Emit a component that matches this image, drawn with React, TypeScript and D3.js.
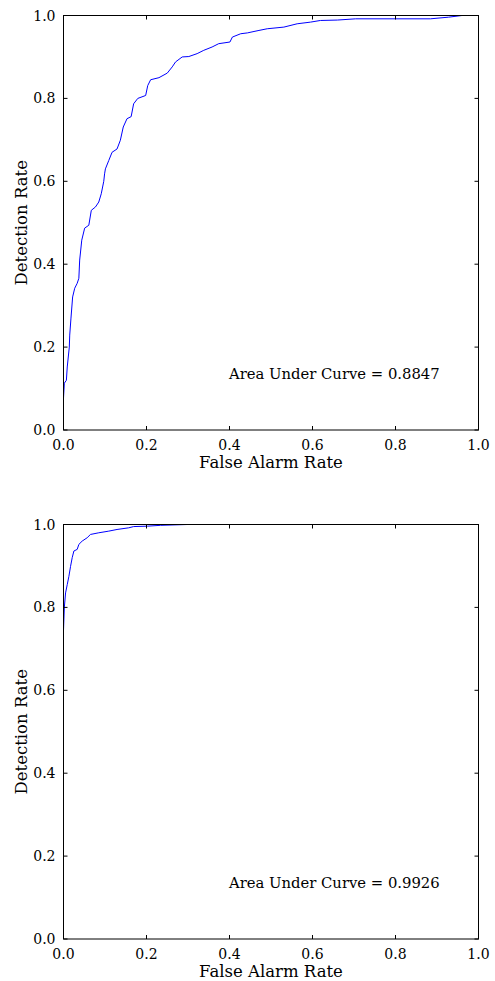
import * as d3 from 'd3';

// ROC points, [false alarm rate, detection rate]
const rocTop: [number, number][] = [
  [0, 0], [0, 0.077], [0.002, 0.113], [0.007, 0.12], [0.009, 0.152], [0.014, 0.2],
  [0.015, 0.229], [0.018, 0.27], [0.022, 0.321], [0.027, 0.342], [0.033, 0.354],
  [0.037, 0.366], [0.039, 0.41], [0.044, 0.458], [0.051, 0.487], [0.061, 0.494],
  [0.067, 0.53], [0.077, 0.538], [0.085, 0.55], [0.091, 0.57], [0.097, 0.6],
  [0.099, 0.618], [0.101, 0.63], [0.109, 0.65], [0.117, 0.67], [0.129, 0.678],
  [0.137, 0.699], [0.144, 0.731], [0.153, 0.751], [0.163, 0.756], [0.169, 0.787],
  [0.179, 0.8], [0.198, 0.807], [0.203, 0.831], [0.21, 0.845], [0.23, 0.85],
  [0.25, 0.861], [0.262, 0.876], [0.27, 0.888], [0.286, 0.9], [0.302, 0.901],
  [0.322, 0.908], [0.338, 0.916], [0.358, 0.924], [0.374, 0.932], [0.401, 0.936],
  [0.407, 0.948], [0.427, 0.956], [0.443, 0.958], [0.471, 0.964], [0.491, 0.968],
  [0.531, 0.972], [0.563, 0.98], [0.595, 0.984], [0.619, 0.988], [0.66, 0.989],
  [0.704, 0.992], [0.8, 0.992], [0.884, 0.992], [0.928, 0.996], [0.96, 1.0], [1.0, 1.0],
];

const rocBottom: [number, number][] = [
  [0, 0], [0, 0.745], [0.002, 0.8], [0.005, 0.835], [0.009, 0.855], [0.013, 0.875],
  [0.017, 0.899], [0.021, 0.92], [0.025, 0.936], [0.033, 0.94], [0.037, 0.952],
  [0.045, 0.96], [0.057, 0.968], [0.065, 0.976], [0.085, 0.98], [0.109, 0.984],
  [0.129, 0.988], [0.157, 0.992], [0.169, 0.995], [0.202, 0.996], [0.234, 0.998],
  [0.298, 1.0], [1.0, 1.0],
];

const aucLabels = ['Area Under Curve = 0.8847', 'Area Under Curve = 0.9926'];
const ticks = [0, 0.2, 0.4, 0.6, 0.8, 1.0];

const W = 495;
const H = 981;
const font = '"DejaVu Serif", serif';

const RocPanel = ({ data, top, auc }: { data: [number, number][]; top: number; auc: string }) => {
  const left = 63.5;
  const right = 478.5;
  const bottom = top + 414.5;
  const x = d3.scaleLinear().domain([0, 1]).range([left, right]);
  const y = d3.scaleLinear().domain([0, 1]).range([bottom, top]);
  const line = d3.line<[number, number]>().x((d) => x(d[0])).y((d) => y(d[1]));
  const tl = 4;

  return (
    <g>
      <path d={line(data) ?? ''} fill="none" stroke="#0000ff" strokeWidth={1} />
      <rect x={left} y={top} width={right - left} height={bottom - top} fill="none" stroke="#000" strokeWidth={1} />
      {ticks.map((t) => (
        <g key={t}>
          <line x1={x(t)} x2={x(t)} y1={bottom} y2={bottom - tl} stroke="#000" />
          <line x1={x(t)} x2={x(t)} y1={top} y2={top + tl} stroke="#000" />
          <line x1={left} x2={left + tl} y1={y(t)} y2={y(t)} stroke="#000" />
          <line x1={right} x2={right - tl} y1={y(t)} y2={y(t)} stroke="#000" />
          <text x={x(t)} y={bottom + 19.5} textAnchor="middle" fontSize={14} fontFamily={font}>
            {t.toFixed(1)}
          </text>
          <text x={left - 8} y={y(t) + 5} textAnchor="end" fontSize={14} fontFamily={font}>
            {t.toFixed(1)}
          </text>
        </g>
      ))}
      <text x={(left + right) / 2} y={bottom + 37.5} textAnchor="middle" fontSize={16.5} fontFamily={font}>
        False Alarm Rate
      </text>
      <text
        transform={`translate(${26.5},${(top + bottom) / 2}) rotate(-90)`}
        textAnchor="middle"
        fontSize={16.5}
        fontFamily={font}
      >
        Detection Rate
      </text>
      <text x={229} y={y(0.122)} fontSize={14.8} fontFamily={font}>
        {auc}
      </text>
    </g>
  );
};

export default function App() {
  return (
    <svg width={W} height={H} style={{ position: 'absolute', left: 0, top: 0, background: '#fff' }}>
      <rect width={W} height={H} fill="#fff" />
      <RocPanel data={rocTop} top={15.5} auc={aucLabels[0]} />
      <RocPanel data={rocBottom} top={524.5} auc={aucLabels[1]} />
    </svg>
  );
}
